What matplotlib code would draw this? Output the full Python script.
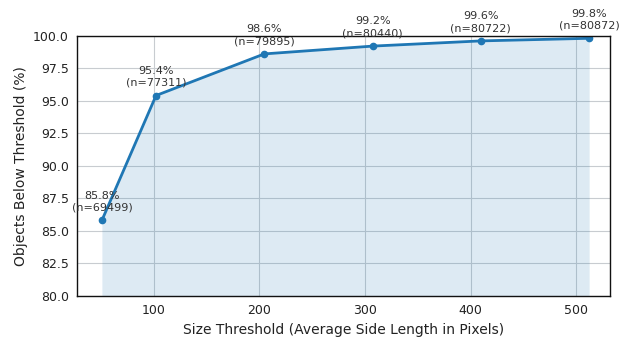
import numpy as np
import matplotlib
matplotlib.use('Agg')
import matplotlib.pyplot as plt

thresholds = [51.2, 102.4, 204.8, 307.2, 409.6, 512.0]
percent_below = [85.8, 95.4, 98.6, 99.2, 99.6, 99.8]
counts = [69499, 77311, 79895, 80440, 80722, 80872]

plt.rcParams['font.family'] = 'DejaVu Sans'

fig, ax = plt.subplots(figsize=(6.24, 3.4), dpi=100)

ax.fill_between(thresholds, percent_below, 80, color='#1f77b4', alpha=0.15, linewidth=0)
ax.plot(thresholds, percent_below, color='#1f77b4', linewidth=2, marker='o', markersize=4.5)

for x, y, n in zip(thresholds, percent_below, counts):
    ax.annotate(f'{y:.1f}%\n(n={n})', (x, y), xytext=(0, 5.5), textcoords='offset points',
                ha='center', va='bottom', fontsize=8, color='#333333', linespacing=1.25)

ax.set_xlim(28, 532)
ax.set_ylim(80, 100)
ax.set_yticks(np.arange(80, 100.1, 2.5))
ax.set_xticks([100, 200, 300, 400, 500])
ax.grid(True, color='#c8ccd0', linewidth=0.8)
ax.set_axisbelow(True)
for s in ax.spines.values():
    s.set_color('#111111')
    s.set_linewidth(1.0)
ax.tick_params(labelsize=9, colors='#333333', length=0, pad=6)
ax.tick_params(axis='both', labelcolor='#222222')

ax.set_xlabel('Size Threshold (Average Side Length in Pixels)', fontsize=10, color='#222222')
ax.set_ylabel('Objects Below Threshold (%)', fontsize=10, color='#222222')

fig.subplots_adjust(left=0.124, right=0.978, top=0.895, bottom=0.13)
fig.savefig('out.png', dpi=100)
